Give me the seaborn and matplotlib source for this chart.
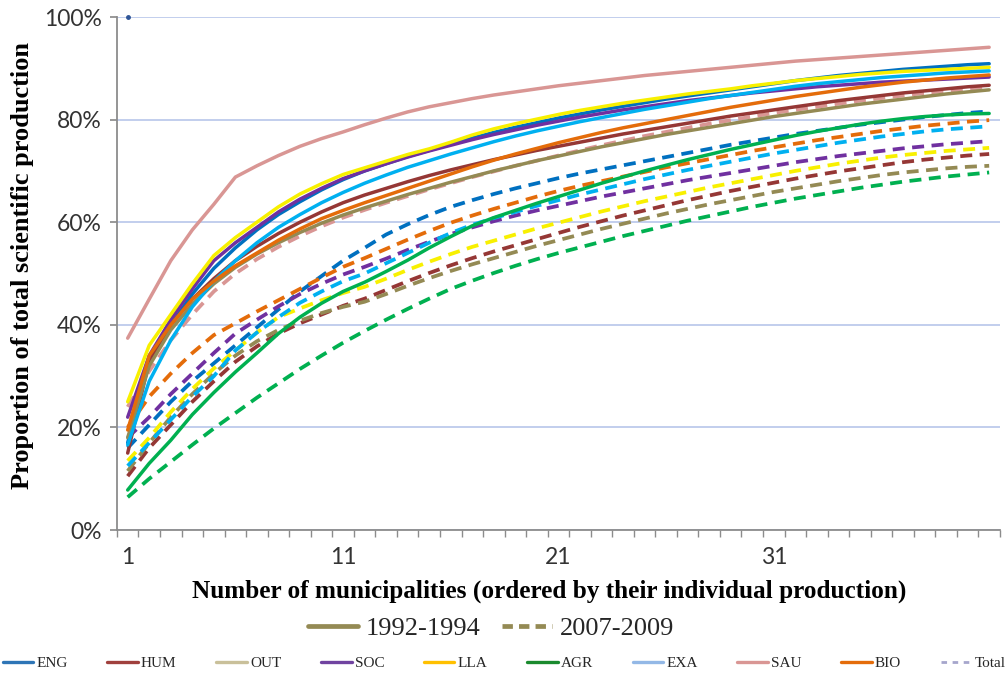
import matplotlib
matplotlib.use('Agg')
import matplotlib.pyplot as plt
from matplotlib.lines import Line2D
from matplotlib.ticker import PercentFormatter, FixedLocator
import seaborn as sns
import pandas as pd
import numpy as np

sns.set_theme(style='white')

# rank of municipality (1..41)
municipalities = list(range(1, 42))
areas = ['ENG', 'HUM', 'OUT', 'SOC', 'LLA', 'AGR', 'EXA', 'SAU', 'BIO']
periods = ['1992-1994', '2007-2009']

# cumulative share (%) 1992-1994
eng_92 = [17, 33, 40, 46, 51, 55, 58.5, 61.5, 64, 66.3, 68.3, 70, 71.4, 72.8, 74, 75.2, 76.4, 77.5, 78.5, 79.4, 80.3,
          81.1, 81.9, 82.6, 83.3, 84, 84.6, 85.2, 85.8, 86.4, 87, 87.6, 88.1, 88.6, 89, 89.4, 89.8, 90.1, 90.4, 90.7, 90.9]
hum_92 = [15, 33, 40, 45, 49, 52.5, 55.3, 57.8, 60, 62, 63.8, 65.3, 66.6, 67.9, 69.1, 70.2, 71.2, 72.2, 73.1, 74, 74.8,
          75.6, 76.4, 77.2, 77.9, 78.6, 79.3, 80, 80.7, 81.3, 81.9, 82.5, 83.1, 83.7, 84.2, 84.7, 85.2, 85.6, 86, 86.4, 86.7]
out_92 = [18, 32, 39, 44, 48, 51.2, 53.8, 56, 58, 59.8, 61.4, 62.8, 64.1, 65.4, 66.6, 67.8, 68.9, 70, 71, 72, 72.9,
          73.8, 74.7, 75.5, 76.3, 77.1, 77.8, 78.5, 79.2, 79.9, 80.6, 81.2, 81.8, 82.4, 83, 83.5, 84, 84.5, 85, 85.4, 85.8]
soc_92 = [22, 34, 41, 47, 52.5, 56, 59, 62, 64.5, 66.6, 68.5, 70, 71.4, 72.7, 73.9, 75, 76.1, 77.1, 78, 78.9, 79.7,
          80.5, 81.2, 81.9, 82.5, 83.1, 83.7, 84.2, 84.7, 85.2, 85.6, 86, 86.4, 86.7, 87, 87.3, 87.5, 87.7, 87.9, 88.1, 88.3]
lla_92 = [25, 36, 42, 48, 53.5, 57, 60, 63, 65.5, 67.5, 69.3, 70.6, 71.9, 73.2, 74.3, 75.6, 77, 78.2, 79.2, 80.1, 81,
          81.8, 82.5, 83.2, 83.8, 84.4, 85, 85.5, 86, 86.6, 87.1, 87.6, 88, 88.4, 88.8, 89.1, 89.4, 89.6, 89.8, 90, 90.2]
agr_92 = [7.8, 13, 17.5, 22.5, 26.8, 30.8, 34.5, 38.3, 41.5, 44.2, 46.5, 48.3, 50.4, 52.6, 55, 57.2, 59.3, 60.9, 62.3, 63.7, 65,
          66.3, 67.6, 68.8, 70, 71.1, 72.2, 73.2, 74.2, 75.1, 76, 76.9, 77.7, 78.4, 79.1, 79.7, 80.2, 80.6, 80.9, 81.1, 81.2]
exa_92 = [16.6, 29, 37, 43.5, 48.5, 52.5, 56, 59, 61.5, 63.8, 65.8, 67.6, 69.2, 70.7, 72, 73.3, 74.5, 75.7, 76.8, 77.8, 78.7,
          79.6, 80.4, 81.2, 82, 82.7, 83.4, 84.1, 84.7, 85.3, 85.9, 86.5, 87, 87.4, 87.8, 88.2, 88.5, 88.8, 89.1, 89.3, 89.5]
sau_92 = [37.4, 45, 52.5, 58.5, 63.5, 68.8, 71, 73, 74.8, 76.3, 77.6, 79, 80.3, 81.5, 82.5, 83.3, 84.1, 84.8, 85.4, 86, 86.6,
          87.1, 87.6, 88.1, 88.6, 89, 89.4, 89.8, 90.2, 90.6, 91, 91.4, 91.7, 92, 92.3, 92.6, 92.9, 93.2, 93.5, 93.8, 94.1]
bio_92 = [19.5, 34, 40, 45, 48.5, 51.5, 54, 56.5, 58.7, 60.7, 62.3, 63.8, 65.2, 66.6, 68, 69.4, 70.8, 72.1, 73.3, 74.4, 75.5,
          76.5, 77.5, 78.4, 79.2, 80, 80.8, 81.6, 82.4, 83.1, 83.8, 84.5, 85.1, 85.7, 86.3, 86.8, 87.3, 87.7, 88.1, 88.4, 88.7]

# cumulative share (%) 2007-2009
eng_07 = [16, 20.5, 25, 29, 32.5, 36, 39.5, 43, 46.5, 49.5, 52.5, 55, 57.6, 59.6, 61.4, 63, 64.3, 65.5, 66.6, 67.6, 68.6,
          69.5, 70.3, 71.1, 71.9, 72.7, 73.5, 74.3, 75.1, 75.8, 76.5, 77.2, 77.8, 78.4, 79, 79.5, 80, 80.5, 80.9, 81.3, 81.6]
hum_07 = [10.5, 16, 20.5, 25, 29, 32.8, 35.8, 38.3, 40.3, 42, 43.7, 45.1, 46.8, 48.5, 50.1, 51.6, 53, 54.3, 55.5, 56.7, 57.9,
          59.1, 60.2, 61.3, 62.3, 63.3, 64.3, 65.2, 66.1, 66.9, 67.7, 68.5, 69.2, 69.9, 70.5, 71.1, 71.7, 72.2, 72.6, 73, 73.3]
out_07 = [11.5, 17, 22, 26.5, 30.5, 34, 36.8, 39, 40.8, 42.3, 43.5, 44.5, 46, 47.6, 49.1, 50.5, 51.8, 53, 54.2, 55.4, 56.5,
          57.6, 58.7, 59.7, 60.7, 61.7, 62.6, 63.5, 64.3, 65.1, 65.9, 66.6, 67.3, 68, 68.6, 69.2, 69.7, 70.1, 70.5, 70.8, 71]
soc_07 = [18, 22, 26.5, 30.5, 34.5, 38.3, 41, 43.6, 46, 48, 49.8, 51.3, 52.9, 54.6, 56.2, 57.7, 59, 60.2, 61.3, 62.3, 63.2,
          64.1, 65, 65.8, 66.6, 67.4, 68.2, 68.9, 69.6, 70.3, 71, 71.7, 72.3, 72.9, 73.4, 73.9, 74.4, 74.8, 75.2, 75.5, 75.8]
lla_07 = [13.5, 18, 23, 27.5, 31.5, 35, 38.5, 41.5, 43.2, 44.8, 46.2, 47.4, 49, 50.7, 52.3, 53.8, 55.2, 56.4, 57.6, 58.8, 59.9,
          61, 62.1, 63.1, 64.1, 65, 65.9, 66.8, 67.6, 68.4, 69.2, 70, 70.7, 71.4, 72, 72.6, 73.1, 73.5, 73.9, 74.2, 74.5]
agr_07 = [6.4, 10, 13.3, 16.6, 19.8, 22.8, 25.8, 28.6, 31.4, 34, 36.5, 38.8, 41, 43.1, 45.1, 47, 48.6, 50.1, 51.5, 52.8, 54,
          55.1, 56.2, 57.3, 58.3, 59.3, 60.3, 61.2, 62.1, 63, 63.8, 64.6, 65.3, 66, 66.7, 67.3, 67.9, 68.4, 68.9, 69.3, 69.7]
exa_07 = [12.5, 17, 21.5, 26, 30, 35, 38.5, 41.5, 44.3, 46.5, 48.5, 50, 52, 54, 56, 57.9, 59.5, 60.8, 62, 63.2, 64.3,
          65.4, 66.4, 67.4, 68.4, 69.3, 70.2, 71, 71.8, 72.6, 73.4, 74.1, 74.8, 75.5, 76.1, 76.7, 77.2, 77.7, 78.1, 78.4, 78.7]
sau_07 = [24, 31, 37, 42, 46.5, 50, 52.8, 55.2, 57.3, 59.2, 60.9, 62.4, 63.8, 65.1, 66.4, 67.6, 68.8, 69.9, 71, 72, 73,
          74, 75, 75.9, 76.8, 77.6, 78.4, 79.2, 79.9, 80.6, 81.3, 81.9, 82.5, 83.1, 83.7, 84.2, 84.7, 85.2, 85.6, 86, 86.3]
bio_07 = [20, 26, 30.5, 34.5, 38, 40.3, 42.6, 44.8, 47, 49.2, 51.3, 53, 54.8, 56.6, 58.3, 59.9, 61.3, 62.6, 63.8, 65, 66.1,
          67.1, 68, 68.9, 69.8, 70.7, 71.5, 72.3, 73.1, 73.9, 74.6, 75.3, 76, 76.6, 77.2, 77.8, 78.3, 78.8, 79.2, 79.6, 79.9]

series_92 = [eng_92, hum_92, out_92, soc_92, lla_92, agr_92, exa_92, sau_92, bio_92]
series_07 = [eng_07, hum_07, out_07, soc_07, lla_07, agr_07, exa_07, sau_07, bio_07]

# stray point at the top-left corner of the original
dot_x = [1]
dot_y = [100]

line_colors = {'ENG': '#0070c0', 'HUM': '#953735', 'OUT': '#948a54', 'SOC': '#7030a0', 'LLA': '#f8f000',
               'AGR': '#00b050', 'EXA': '#00b0f0', 'SAU': '#d99694', 'BIO': '#e46c0a'}
legend_colors = {'ENG': '#2e75b6', 'HUM': '#a0403d', 'OUT': '#c9c09a', 'SOC': '#7043a0', 'LLA': '#ffc000',
                 'AGR': '#1a8a2e', 'EXA': '#93b8e6', 'SAU': '#d99694', 'BIO': '#e46c0a', 'Total': '#a6a6cc'}

rows = []
for period, group in zip(periods, [series_92, series_07]):
    for area, vals in zip(areas, group):
        for m, v in zip(municipalities, vals):
            rows.append({'Municipality': m, 'Share': v, 'Area': area, 'Period': period})
df = pd.DataFrame(rows)

fig = plt.figure(figsize=(10.08, 6.81), dpi=100)
ax = fig.add_axes([0.116, 0.2217, 0.876, 0.7533])

sns.lineplot(
    data=df[df['Period'] == '2007-2009'], x='Municipality', y='Share', hue='Area',
    hue_order=areas, palette=line_colors, linewidth=2.7, legend=False, ax=ax,
    dashes=False, linestyle=(0, (3.2, 2.0)),
)
sns.lineplot(
    data=df[df['Period'] == '1992-1994'], x='Municipality', y='Share', hue='Area',
    hue_order=areas, palette=line_colors, linewidth=2.5, legend=False, ax=ax,
)
ax.plot(dot_x, dot_y, 'o', ms=2.5, color='#2f5597', clip_on=False)

ax.set_xlim(0.5, 41.5)
ax.set_ylim(0, 100)
ax.yaxis.set_major_locator(FixedLocator([0, 20, 40, 60, 80, 100]))
ax.yaxis.set_major_formatter(PercentFormatter(decimals=0))
ax.set_xticks([1, 11, 21, 31])
ax.xaxis.set_minor_locator(FixedLocator(np.arange(0.5, 42, 1)))
ax.tick_params(axis='x', which='major', length=0, pad=12)
ax.tick_params(axis='x', which='minor', length=5, color='#8c8c8c', direction='out', bottom=True)
ax.tick_params(axis='y', length=5, color='#8c8c8c', direction='out', left=True, pad=6)
for lab in ax.get_xticklabels() + ax.get_yticklabels():
    lab.set_fontfamily('Lato')
    lab.set_fontsize(16.5)
    lab.set_color('#333333')

ax.grid(axis='y', color='#b8c6ea', linewidth=1.2)
ax.set_axisbelow(True)
for s in ['top', 'right']:
    ax.spines[s].set_visible(False)
for s in ['left', 'bottom']:
    ax.spines[s].set_color('#8c8c8c')
    ax.spines[s].set_linewidth(1.3)

ax.set_xlabel('Number of municipalities (ordered by their individual production)',
              family='Liberation Serif', fontweight='bold', fontsize=18.2, color='black')
ax.set_ylabel('Proportion of total scientific production',
              family='Liberation Serif', fontweight='bold', fontsize=19, color='black')
ax.yaxis.set_label_coords(-0.094, 0.515)
ax.xaxis.set_label_coords(0.49, -0.097)

period_handles = [
    Line2D([], [], color='#948a54', lw=3.4),
    Line2D([], [], color='#948a54', lw=3.4, linestyle=(0, (2.2, 1.3))),
]
fig.legend(period_handles, periods, loc='center', bbox_to_anchor=(0.487, 0.077), ncol=2,
           frameon=False, prop={'family': 'Liberation Serif', 'size': 19},
           handlelength=1.9, columnspacing=0.8, handletextpad=0.3)

area_labels = areas + ['Total']
area_handles = [Line2D([], [], color=legend_colors[a], lw=2.4) for a in areas]
area_handles.append(Line2D([], [], color=legend_colors['Total'], lw=2.0, linestyle=(0, (2, 2))))
fig.legend(area_handles, area_labels, loc='center', bbox_to_anchor=(0.5, 0.026), ncol=10,
           frameon=False, prop={'family': 'Liberation Serif', 'size': 11},
           handlelength=2.0, columnspacing=2.6, handletextpad=0.2)

fig.savefig('out.png', dpi=100, facecolor='white')
